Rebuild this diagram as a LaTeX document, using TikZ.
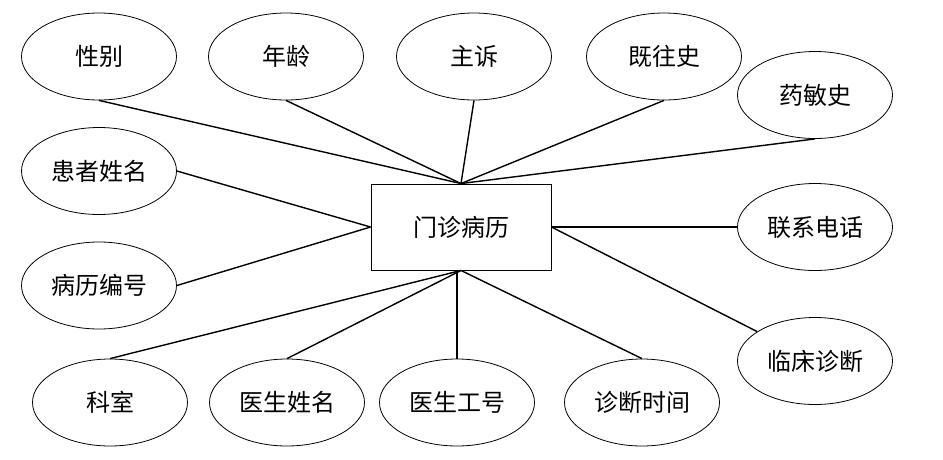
\documentclass[tikz,border=0pt]{standalone}
\usepackage{fontspec}
\setmainfont{Noto Sans CJK SC}
\usetikzlibrary{shapes.geometric}
\begin{document}
\begin{tikzpicture}[x=1pt,y=-1pt,
  attr/.style={ellipse,draw,line width=0.8pt,minimum width=155pt,minimum height=87pt,inner sep=0pt,font=\fontsize{24}{27}\selectfont},
  entity/.style={rectangle,draw,line width=0.9pt,minimum width=180pt,minimum height=86pt,inner sep=0pt,font=\fontsize{24}{27}\selectfont},
  link/.style={line width=1.4pt}]
\useasboundingbox (0,0) rectangle (943,459);
\node[entity] (r) at (461,227) {门诊病历};
\node[attr] (xb) at (99,56.5) {性别};
\node[attr] (nl) at (286,56.5) {年龄};
\node[attr] (zs) at (474,56.5) {主诉};
\node[attr] (jw) at (664,56.5) {既往史};
\node[attr] (ym) at (815,95) {药敏史};
\node[attr] (hz) at (99,171) {患者姓名};
\node[attr] (bl) at (99,285.5) {病历编号};
\node[attr] (lx) at (815,227) {联系电话};
\node[attr] (lc) at (815,361) {临床诊断};
\node[attr] (ks) at (110,402.5) {科室};
\node[attr] (ysx) at (287,402.5) {医生姓名};
\node[attr] (ysg) at (457,402.5) {医生工号};
\node[attr] (zd) at (642,402.5) {诊断时间};
\draw[link] (xb.south) -- (r.north);
\draw[link] (nl.south) -- (r.north);
\draw[link] (zs.south) -- (r.north);
\draw[link] (jw.south) -- (r.north);
\draw[link] (ym.south) -- (r.north);
\draw[link] (hz.east) -- (r.west);
\draw[link] (bl.east) -- (r.west);
\draw[link] (r.east) -- (lx.west);
\draw[link] (r.east) -- (lc);
\draw[link] (ks.north) -- (r.south);
\draw[link] (ysx.north) -- (r.south);
\draw[link] (ysg.north) -- (ysg.north |- r.south);
\draw[link] (zd.north) -- (r.south);
\end{tikzpicture}
\end{document}
